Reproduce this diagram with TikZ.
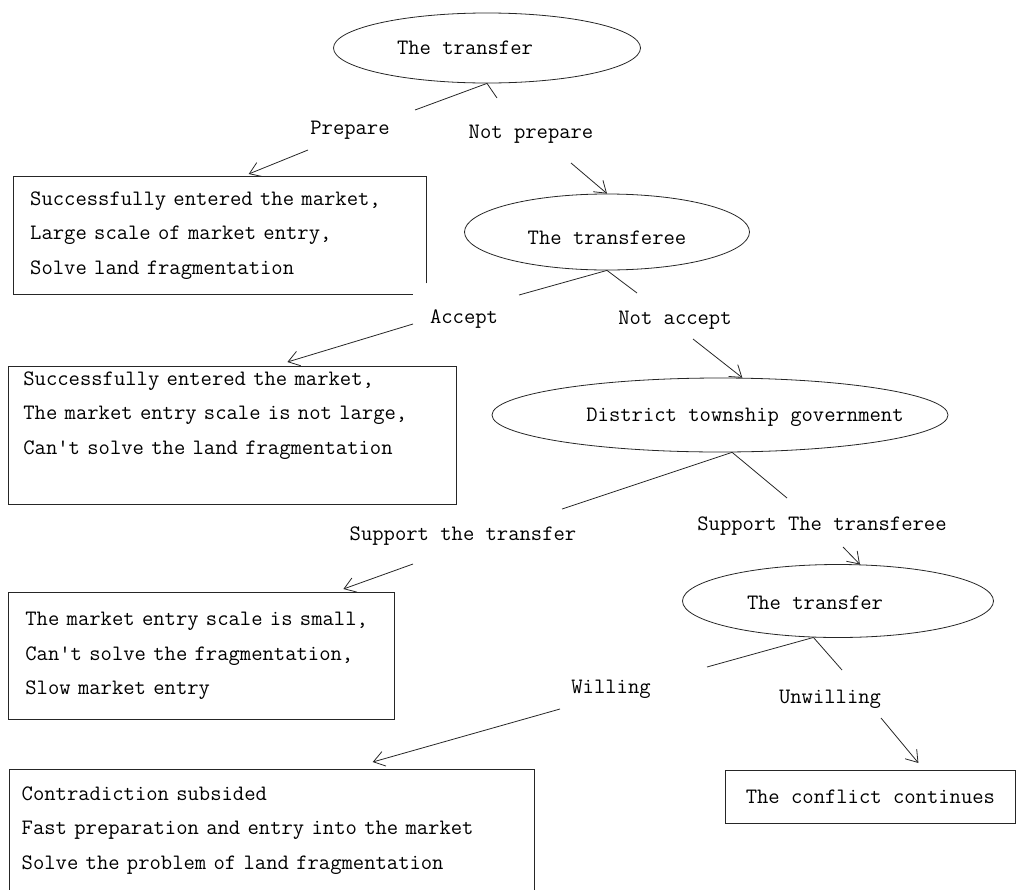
\documentclass[tikz,border=0pt]{standalone}
\usepackage{fontspec}
\usetikzlibrary{shapes.geometric,arrows.meta}

\begin{document}
\begin{tikzpicture}[x=1pt,y=-1pt,
    every node/.style={font=\ttfamily\fontsize{22}{34.5}\selectfont},
    lin/.style={draw=black!85,line width=0.8pt},
    dec/.style={lin,ellipse,inner sep=0pt},
    res/.style={anchor=north west,align=left,inner xsep=17pt,inner ysep=0pt},
    arr/.style={lin,-{Straight Barb[length=11pt,width=15pt]}}]
\useasboundingbox (0,0) rectangle (1017,889);

% the four players
\node[dec,minimum width=307pt,minimum height=70pt,label={[xshift=-22pt]center:The transfer}] (tf1) at (487,48) {};
\node[dec,minimum width=285pt,minimum height=76pt,label={[yshift=-6pt]center:The transferee}] (tfe) at (607,232) {};
\node[dec,minimum width=456pt,minimum height=74pt,label={[xshift=25pt,yshift=-2pt]center:District township government}] (gov) at (720,415) {};
\node[dec,minimum width=311pt,minimum height=73pt,label={[xshift=-23pt,yshift=-2pt]center:The transfer}] (tf2) at (838,601) {};

% outcomes
\node[res,text width=379pt,minimum height=118pt] (res1) at (13,176)
  {Successfully entered the market,\\ Large scale of market entry,\\ Solve land fragmentation};
\node[res,lin,inner xsep=15pt,text width=418pt,minimum height=138pt] (res2) at (8,366)
  {Successfully entered the market,\\ The market entry scale is not large,\\ Can't solve the land fragmentation\\ \strut};
\node[res,lin,text width=352pt,minimum height=127pt] (res3) at (8,592)
  {The market entry scale is small,\\ Can't solve the fragmentation,\\ Slow market entry};
\node[res,inner xsep=12.5pt,text width=500pt,minimum height=122pt] (res4) at (9,769)
  {Contradiction subsided\\ Fast preparation and entry into the market\\ Solve the problem of land fragmentation};
\node[res,lin,minimum width=290pt,minimum height=53pt] (res5) at (725,770) {The conflict continues};

% open corners
\draw[lin] ([yshift=11pt]res1.south east) -- (res1.north east) -- (res1.north west)
  -- (res1.south west) -- ([xshift=-13pt]res1.south east);
\draw[lin] (res4.south west) -- (res4.north west) -- (res4.north east) -- (res4.south east);

% choices
\node (prep) at (350,130) {Prepare};
\node (nprep) at (531,134) {Not prepare};
\node (acc) at (464,319) {Accept};
\node (nacc) at (675,320) {Not accept};
\node (supt) at (463,536) {Support the transfer};
\node (supte) at (822,526) {Support The transferee};
\node (will) at (611,689) {Willing};
\node (unwill) at (830,699) {Unwilling};

\coordinate (l1a) at (415,110); \coordinate (l1b) at (497,98);
\coordinate (a1a) at (308,150); \coordinate (a1b) at (571,163);
\coordinate (l2a) at (519,295); \coordinate (l2b) at (637,293);
\coordinate (a2a) at (413,324); \coordinate (a2b) at (693,339);
\coordinate (l3a) at (562,509); \coordinate (l3b) at (787,498);
\coordinate (a3a) at (413,564); \coordinate (a3b) at (843,547);
\coordinate (l4a) at (707,667); \coordinate (l4b) at (842,670);
\coordinate (a4a) at (560,709); \coordinate (a4b) at (881,718);

\draw[lin] (tf1.south) -- (l1a);
\draw[lin] (tf1.south) -- (l1b);
\draw[arr] (a1a) -- ([xshift=29pt,yshift=2pt]res1.north);
\draw[arr] (a1b) -- (tfe.north);

\draw[lin] (tfe.south) -- (l2a);
\draw[lin] (tfe.south) -- (l2b);
\draw[arr] (a2a) -- ([xshift=55pt,yshift=4pt]res2.north);
\draw[arr] (a2b) -- (gov.59);

\draw[lin] (gov.-72) -- (l3a);
\draw[lin] (gov.-72) -- (l3b);
\draw[arr] (a3a) -- ([xshift=142pt,yshift=3pt]res3.north);
\draw[arr] (a3b) -- (tf2.59);

\draw[lin] (tf2.-124) -- (l4a);
\draw[lin] (tf2.-124) -- (l4b);
\draw[arr] (a4a) -- ([xshift=101pt,yshift=7pt]res4.north);
\draw[arr] (a4b) -- ([xshift=48pt,yshift=7pt]res5.north);
\end{tikzpicture}
\end{document}
